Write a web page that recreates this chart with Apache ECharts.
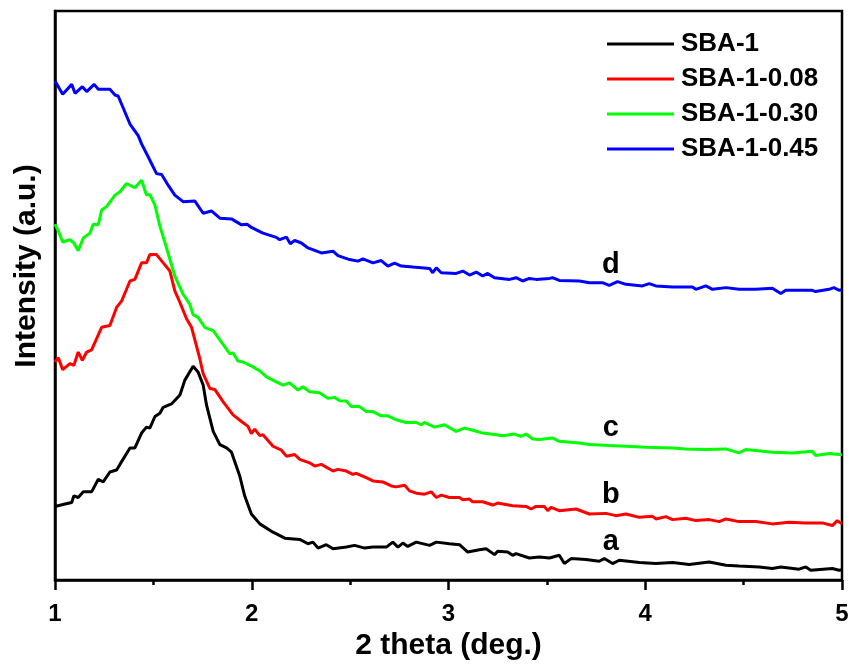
<!DOCTYPE html>
<html>
<head>
<meta charset="utf-8">
<script src="https://cdn.jsdelivr.net/npm/echarts@6/dist/echarts.min.js"></script>
<style>
  html, body { margin: 0; padding: 0; background: #fff; }
  #chart { width: 852px; height: 666px; }
</style>
</head>
<body>
<div id="chart"></div>
<script>
// Small-angle XRD patterns, 2θ (deg.) vs intensity (a.u., curves offset vertically)
const seriesNames = ['SBA-1', 'SBA-1-0.08', 'SBA-1-0.30', 'SBA-1-0.45'];
const curveLabels = ['a', 'b', 'c', 'd'];
const seriesColors = ['#000000', '#ff0000', '#00ff00', '#0000ff'];

// SBA-1 (a)
const sba1 = [
  [1.000,74.3],[1.051,76.7],[1.085,78.3],[1.096,85],[1.118,83.3],[1.144,89],[1.186,89],
  [1.220,101.7],[1.245,99],[1.279,109],[1.313,111],[1.330,116.7],[1.381,133.3],[1.406,133.3],
  [1.440,148.3],[1.465,154.3],[1.482,153.3],[1.508,165],[1.533,168.3],[1.550,174.3],[1.592,177.7],
  [1.635,186.7],[1.660,201.7],[1.702,215.7],[1.727,210],[1.753,196.7],[1.770,176.7],[1.804,150],
  [1.838,136.7],[1.872,133.3],[1.897,129],[1.905,129],[1.939,105],[1.964,85],[1.998,66.7],
  [2.041,56.7],[2.108,48.3],[2.168,42.3],[2.244,41],[2.286,36.7],[2.311,38.3],[2.337,32.3],
  [2.379,35.7],[2.413,31.7],[2.481,33.3],[2.523,35],[2.574,32.3],[2.616,33.3],[2.684,33.3],
  [2.717,38.3],[2.743,33.3],[2.768,37.3],[2.793,34],[2.836,38.3],[2.904,35],[2.938,38.3],
  [3.005,36.7],[3.056,35.7],[3.098,28.3],[3.157,30.7],[3.191,31.7],[3.234,25.7],[3.250,29],
  [3.301,28.3],[3.326,25],[3.343,26.7],[3.411,22.3],[3.462,23.3],[3.513,22.3],[3.563,25],
  [3.589,16.7],[3.623,21.7],[3.699,20.7],[3.766,19],[3.792,21.7],[3.834,16.7],[3.868,20],
  [3.970,17.7],[4.054,16.7],[4.139,17.7],[4.223,15.7],[4.325,18.3],[4.410,15],[4.477,14.3],
  [4.579,13.3],[4.646,11.7],[4.689,13.3],[4.782,11],[4.816,13.3],[4.841,10],[4.951,11.7],
  [4.985,10],[5.000,10.5]
];

// SBA-1-0.08 (b)
const sba1_008 = [
  [1.000,220],[1.017,224.3],[1.039,212.3],[1.076,218.3],[1.096,216.7],[1.118,230],[1.139,221.7],
  [1.161,230],[1.186,232.3],[1.237,255],[1.279,256.7],[1.313,275],[1.339,281.7],[1.381,301.7],
  [1.406,303.3],[1.440,320],[1.465,320],[1.482,328.3],[1.516,328.3],[1.550,320],[1.584,311.7],
  [1.609,291.7],[1.635,280],[1.669,263.3],[1.694,255],[1.736,223.3],[1.753,208.3],[1.787,193.3],
  [1.812,192.3],[1.854,180],[1.905,166.7],[1.948,160],[1.981,155],[1.998,147.7],[2.015,152.3],
  [2.041,145.7],[2.057,146.7],[2.108,135],[2.151,131],[2.176,125],[2.218,126.7],[2.244,121.7],
  [2.294,118.3],[2.320,115],[2.354,116.7],[2.413,110],[2.438,111.7],[2.481,110],[2.514,106.7],
  [2.531,107.7],[2.582,103.3],[2.616,100],[2.666,99],[2.709,95],[2.734,94],[2.777,95.7],
  [2.802,90],[2.836,87.7],[2.878,86.7],[2.912,89],[2.938,83.3],[2.963,85.7],[3.005,83.3],
  [3.056,83.3],[3.073,81],[3.107,81.7],[3.123,79],[3.174,79],[3.225,75.7],[3.250,77.7],
  [3.326,75],[3.394,74.3],[3.420,71.7],[3.445,74.3],[3.487,74.3],[3.504,70],[3.521,73.3],
  [3.563,70],[3.648,71.7],[3.716,66.7],[3.800,67.3],[3.851,65],[3.902,66.7],[3.970,63.3],
  [4.037,64.3],[4.054,61.7],[4.105,64],[4.139,61],[4.206,62.3],[4.257,60],[4.325,61],
  [4.376,59],[4.410,61.7],[4.477,59],[4.562,59],[4.646,56.7],[4.731,58.3],[4.816,57.7],
  [4.900,57.7],[4.951,55],[4.976,60],[5.000,56.7]
];

// SBA-1-0.30 (c)
const sba1_030 = [
  [1.000,359],[1.017,352],[1.039,341],[1.076,343.3],[1.096,340],[1.118,332.3],[1.144,345],
  [1.178,350],[1.194,359],[1.220,358.3],[1.237,373.3],[1.262,376.7],[1.305,388.3],[1.330,391.7],
  [1.364,400],[1.406,395.7],[1.440,403.3],[1.465,388.3],[1.482,389],[1.508,378.3],[1.533,357],
  [1.567,335],[1.609,306.7],[1.651,288.3],[1.685,278.3],[1.702,267.7],[1.727,265],[1.761,255],
  [1.804,251.7],[1.846,240],[1.888,228.3],[1.905,229],[1.930,221],[1.956,220],[2.007,215],
  [2.041,211],[2.075,205],[2.125,200],[2.159,196.7],[2.193,199],[2.235,191.7],[2.260,195],
  [2.294,190],[2.345,189],[2.387,183.3],[2.421,184.3],[2.447,181],[2.481,180.7],[2.506,175],
  [2.548,175],[2.582,170],[2.616,170],[2.658,165.7],[2.692,165.7],[2.735,161.7],[2.785,159],
  [2.836,159],[2.861,156.7],[2.878,159],[2.929,154.3],[2.980,156.7],[3.039,150],[3.081,153.3],
  [3.115,151.7],[3.174,148.3],[3.242,146.7],[3.276,145.7],[3.335,147.3],[3.369,145],[3.394,147.3],
  [3.428,142.3],[3.462,141.7],[3.529,143.3],[3.563,140],[3.665,138.3],[3.716,136.7],[3.817,135.7],
  [3.902,135],[4.003,134],[4.139,133.3],[4.206,132.3],[4.308,131.7],[4.410,132.3],[4.477,128.3],
  [4.511,131.7],[4.646,129],[4.748,128.3],[4.849,130],[4.866,125.7],[4.934,127.7],[4.985,126.7],
  [5.000,126.5]
];

// SBA-1-0.45 (d)
const sba1_045 = [
  [1.000,503.3],[1.039,490],[1.085,500],[1.102,491],[1.139,497.7],[1.161,492.7],[1.199,500],
  [1.220,495],[1.279,495],[1.305,489.3],[1.321,488.3],[1.381,460],[1.423,448.3],[1.440,440],
  [1.474,426.7],[1.516,410],[1.542,409],[1.575,398.3],[1.609,388.3],[1.651,381.7],[1.711,382.3],
  [1.753,370],[1.795,372.3],[1.838,365],[1.897,364.3],[1.948,358.3],[1.976,359],[1.998,355.7],
  [2.057,350],[2.125,345.7],[2.142,343.3],[2.176,346],[2.196,339.3],[2.218,342.7],[2.252,340],
  [2.286,335],[2.354,330],[2.413,331.7],[2.438,327.3],[2.497,323.3],[2.540,321.7],[2.565,324],
  [2.616,320],[2.658,322.3],[2.692,316.7],[2.726,319.7],[2.760,316.7],[2.819,315.7],[2.904,314.3],
  [2.920,310],[2.938,315],[2.963,310],[3.039,309.3],[3.073,311.7],[3.107,307.7],[3.141,310.7],
  [3.174,306.7],[3.199,309.3],[3.234,305],[3.310,303.3],[3.344,305],[3.377,301.7],[3.411,304.3],
  [3.445,303.3],[3.513,304.3],[3.529,305],[3.563,302.3],[3.665,301.7],[3.716,300],[3.783,300],
  [3.817,297.3],[3.859,301],[3.902,298.3],[3.986,296.7],[4.020,299],[4.054,296.7],[4.139,295.7],
  [4.240,295.7],[4.257,293.3],[4.308,296.7],[4.342,293.3],[4.410,295],[4.477,293.3],[4.562,293.3],
  [4.646,294.3],[4.689,289],[4.714,292.3],[4.782,292.3],[4.849,292.3],[4.866,291],[4.934,293.3],
  [4.959,295],[4.985,292.3],[5.000,293]
];

const curves = [sba1, sba1_008, sba1_030, sba1_045];
// where each curve letter sits: [2θ, intensity]
const curveLabelAt = [[3.825, 38], [3.825, 86], [3.825, 153], [3.825, 318]];

const FONT = 'Arial, "Liberation Sans", sans-serif';

const chart = echarts.init(document.getElementById('chart'), null, { renderer: 'canvas' });

chart.setOption({
  animation: false,
  backgroundColor: '#ffffff',
  grid: {
    left: 55, right: 10, top: 11, bottom: 81,
    show: true, borderColor: '#000', borderWidth: 2.5, backgroundColor: 'transparent'
  },
  legend: {
    orient: 'vertical',
    left: 602, top: 26,
    itemWidth: 67, itemHeight: 3, itemGap: 9,
    icon: 'rect',
    data: seriesNames,
    textStyle: {
      fontFamily: FONT, fontSize: 26, fontWeight: 'bold', color: '#000',
      lineHeight: 26, padding: [0, 0, 0, 2]
    }
  },
  xAxis: {
    type: 'value',
    min: 1, max: 5, interval: 1,
    name: '2 theta (deg.)',
    nameLocation: 'middle',
    nameGap: 43,
    nameTextStyle: { fontFamily: FONT, fontSize: 30, fontWeight: 'bold', color: '#000' },
    axisLine: { show: true, lineStyle: { color: '#000', width: 2.5 } },
    axisTick: { show: true, inside: false, length: 10, lineStyle: { color: '#000', width: 2.5 } },
    minorTick: { show: true, splitNumber: 2, length: 5, lineStyle: { color: '#000', width: 2.5 } },
    axisLabel: { fontFamily: FONT, fontSize: 24, fontWeight: 'bold', color: '#000', margin: 22 },
    splitLine: { show: false }
  },
  yAxis: {
    type: 'value',
    min: 0, max: 574,
    axisLine: { show: true, lineStyle: { color: '#000', width: 2.5 } },
    axisTick: { show: false },
    axisLabel: { show: false },
    splitLine: { show: false }
  },
  graphic: [{
    type: 'text',
    x: 27, y: 266,
    rotation: Math.PI / 2,
    style: {
      text: 'Intensity (a.u.)',
      fontFamily: FONT, fontSize: 30, fontWeight: 'bold', fill: '#000',
      textAlign: 'center', textVerticalAlign: 'middle'
    }
  }],
  series: curves.map((d, i) => ({
    name: seriesNames[i],
    type: 'line',
    data: d,
    showSymbol: false,
    symbol: 'none',
    color: seriesColors[i],
    lineStyle: { color: seriesColors[i], width: 3 },
    z: 2 + i,
    markPoint: {
      symbol: 'circle',
      symbolSize: 0,
      data: [{ coord: curveLabelAt[i] }],
      label: {
        show: true, position: 'inside',
        formatter: curveLabels[i],
        fontFamily: FONT, fontSize: 29, fontWeight: 'bold', color: '#000'
      }
    }
  }))
});
</script>
</body>
</html>
